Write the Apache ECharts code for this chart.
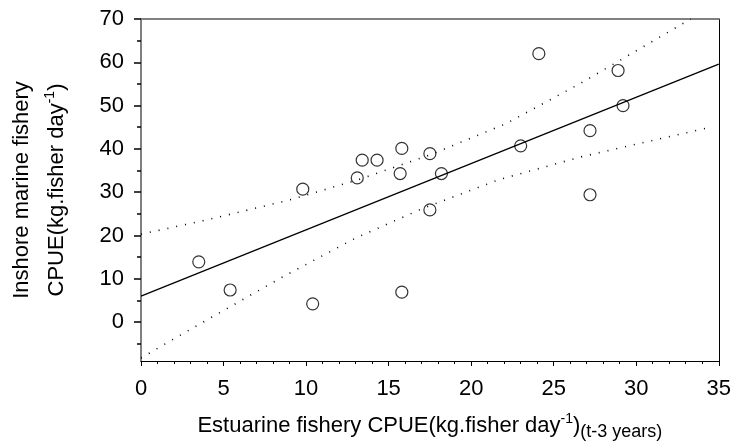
<!DOCTYPE html>
<html>
<head>
<meta charset="utf-8">
<script src="https://cdn.jsdelivr.net/npm/echarts@6/dist/echarts.min.js"></script>
<style>
html,body{margin:0;padding:0;background:#fff;}
#chart{width:734px;height:447px;}
</style>
</head>
<body>
<div id="chart"></div>
<script>
// Observed data (estuarine CPUE t-3 years vs inshore marine CPUE)
var estuarineX = [3.5, 5.4, 10.4, 15.8, 17.5, 9.8, 13.1, 13.4, 14.3, 15.8, 15.7, 17.5, 18.2, 23.0, 24.1, 27.2, 27.2, 28.9, 29.2];
var inshoreY   = [13.9, 7.4, 4.2, 6.9, 25.9, 30.7, 33.3, 37.4, 37.4, 40.1, 34.3, 38.9, 34.3, 40.7, 62.0, 44.2, 29.4, 58.1, 50.0];

// Regression line
var fitX = [0, 35];
var fitY = [6.0, 59.6];

// Confidence bands
var upperX = [0, 4, 9, 13.1, 17.5, 22.1, 26.7, 33.3];
var upperY = [20.3, 23.6, 28.2, 32.8, 38.6, 45.8, 55.3, 70];
var lowerX = [0, 2.3, 4, 8.5, 13, 17.1, 21.7, 26.6, 34.6];
var lowerY = [-8.3, -3.2, 0.5, 10.25, 19.4, 26.3, 32.9, 38.1, 45.1];

// Tick values
var yMajorTicks = [0, 10, 20, 30, 40, 50, 60, 70];
var yMinorTicks = [-5, 5, 15, 25, 35, 45, 55, 65];

function pairs(xs, ys) { return xs.map(function (x, i) { return [x, ys[i]]; }); }

var FONT = 'Liberation Sans';
var chart = echarts.init(document.getElementById('chart'), null, {renderer: 'canvas'});
chart.setOption({
  animation: false,
  backgroundColor: '#fff',
  grid: {left: 141, top: 19, right: 14, bottom: 86, containLabel: false},
  xAxis: [{
    type: 'value', min: 0, max: 35, interval: 5, position: 'bottom',
    axisLine: {show: true, onZero: false, lineStyle: {color: '#000', width: 1}},
    axisTick: {show: true, inside: false, length: 5, lineStyle: {color: '#000'}},
    minorTick: {show: true, splitNumber: 5, length: 3, lineStyle: {color: '#000'}},
    splitLine: {show: false},
    axisLabel: {fontFamily: FONT, fontSize: 22, color: '#000', margin: 17},
    name: '{a|Estuarine fishery CPUE(kg.fisher day}{sup|-1}{a|)}{sub|(t-3 years)}',
    nameLocation: 'middle', nameGap: 50,
    nameTextStyle: {
      rich: {
        a: {fontFamily: FONT, fontSize: 22, color: '#000', lineHeight: 30, verticalAlign: 'middle'},
        sup: {fontFamily: FONT, fontSize: 14, color: '#000', lineHeight: 30, verticalAlign: 'top', padding: [1, 0, 0, 0]},
        sub: {fontFamily: FONT, fontSize: 18, color: '#000', lineHeight: 30, verticalAlign: 'bottom', padding: [0, 0, 0, 0]}
      }
    }
  }, {
    type: 'value', min: 0, max: 35, position: 'top',
    axisLine: {show: true, onZero: false, lineStyle: {color: '#808080', width: 2}},
    axisTick: {show: false}, axisLabel: {show: false}, splitLine: {show: false}
  }],
  yAxis: [{
    type: 'value', min: -9, max: 70, position: 'left',
    axisLine: {show: true, onZero: false, lineStyle: {color: '#808080', width: 2}},
    axisTick: {show: true, inside: false, length: 7, customValues: yMajorTicks, lineStyle: {color: '#000', width: 1.5}},
    splitLine: {show: false},
    axisLabel: {fontFamily: FONT, fontSize: 22, color: '#000', margin: 17, customValues: yMajorTicks},
    name: '{a|Inshore marine fishery}\n{a|CPUE(kg.fisher day}{sup|-1}{a|)}',
    nameLocation: 'middle', nameGap: 67,
    nameTextStyle: {
      rich: {
        a: {fontFamily: FONT, fontSize: 22, color: '#000', lineHeight: 35, verticalAlign: 'middle'},
        sup: {fontFamily: FONT, fontSize: 14, color: '#000', lineHeight: 35, verticalAlign: 'top', padding: [4, 0, 0, 0]}
      }
    }
  }, {
    type: 'value', min: -9, max: 70, position: 'left',
    axisLine: {show: false},
    axisTick: {show: true, inside: false, length: 4, customValues: yMinorTicks, lineStyle: {color: '#000', width: 1.5}},
    axisLabel: {show: false}, splitLine: {show: false}
  }, {
    type: 'value', min: -9, max: 70, position: 'right',
    axisLine: {show: true, onZero: false, lineStyle: {color: '#000', width: 1}},
    axisTick: {show: false}, axisLabel: {show: false}, splitLine: {show: false}
  }],
  series: [{
    type: 'line', data: pairs(fitX, fitY), showSymbol: false, symbol: 'none',
    lineStyle: {color: '#000', width: 1.3}, clip: true, z: 2
  }, {
    type: 'line', data: pairs(upperX, upperY), showSymbol: false, symbol: 'none',
    smooth: false,
    lineStyle: {color: '#000', width: 1.6, type: [1, 8]}, clip: true, z: 2
  }, {
    type: 'line', data: pairs(lowerX, lowerY), showSymbol: false, symbol: 'none',
    smooth: false,
    lineStyle: {color: '#000', width: 1.6, type: [1, 8]}, clip: true, z: 2
  }, {
    type: 'scatter', data: pairs(estuarineX, inshoreY), symbol: 'circle', symbolSize: 12,
    itemStyle: {color: 'rgba(255,255,255,0)', borderColor: '#000', borderWidth: 1.2}, z: 3
  }]
});
</script>
</body>
</html>
